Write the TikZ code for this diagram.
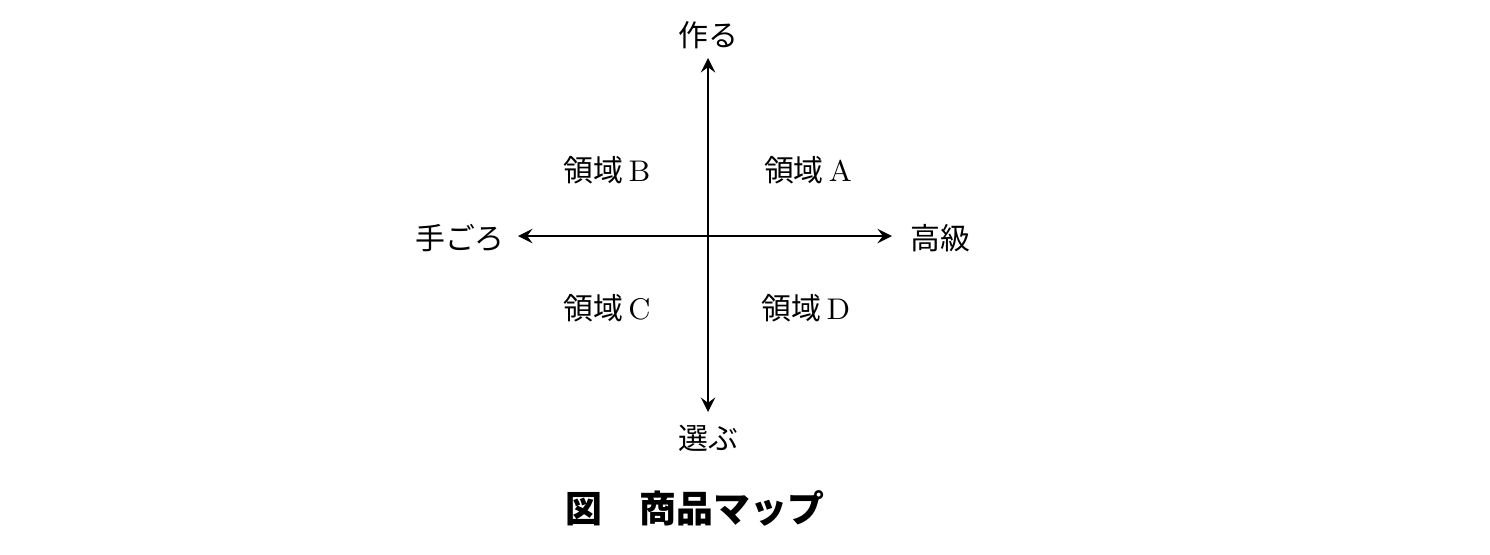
\documentclass[tikz,border=0pt]{standalone}
\usepackage{fontspec}
\newfontfamily\cjk{Noto Sans CJK JP}
\usetikzlibrary{positioning}
\begin{document}
\begin{tikzpicture}[
    x=0.01cm, y=-0.01cm,
    thick,
    every node/.style={font=\fontsize{8.5}{10}\selectfont, inner sep=0pt},
    axis/.style={<->, >=stealth}
]
  \useasboundingbox (0,0) rectangle (1490,554);

  \node (top)    at (708,35)  {\cjk 作る};
  \node (bottom) at (708,438) {\cjk 選ぶ};
  \node (left)   at (460,238) {\cjk 手ごろ};
  \node (right)  at (940,238) {\cjk 高級};

  \coordinate (n) at (708,58);
  \coordinate (s) at (708,412);
  \coordinate (w) at (518,236);
  \coordinate (e) at (892,236);
  \draw[axis] (n) -- (s);
  \draw[axis] (w) -- (e);

  \node (areaB) at (607,170) {{\cjk 領域}\,B};
  \node (areaA) at (808,170) {{\cjk 領域}\,A};
  \node (areaC) at (607,308) {{\cjk 領域}\,C};
  \node (areaD) at (806,308) {{\cjk 領域}\,D};

  \node (caption) at (695,508) {\fontsize{10.5}{12}\selectfont\cjk\bfseries 図\quad 商品マップ};
\end{tikzpicture}
\end{document}
